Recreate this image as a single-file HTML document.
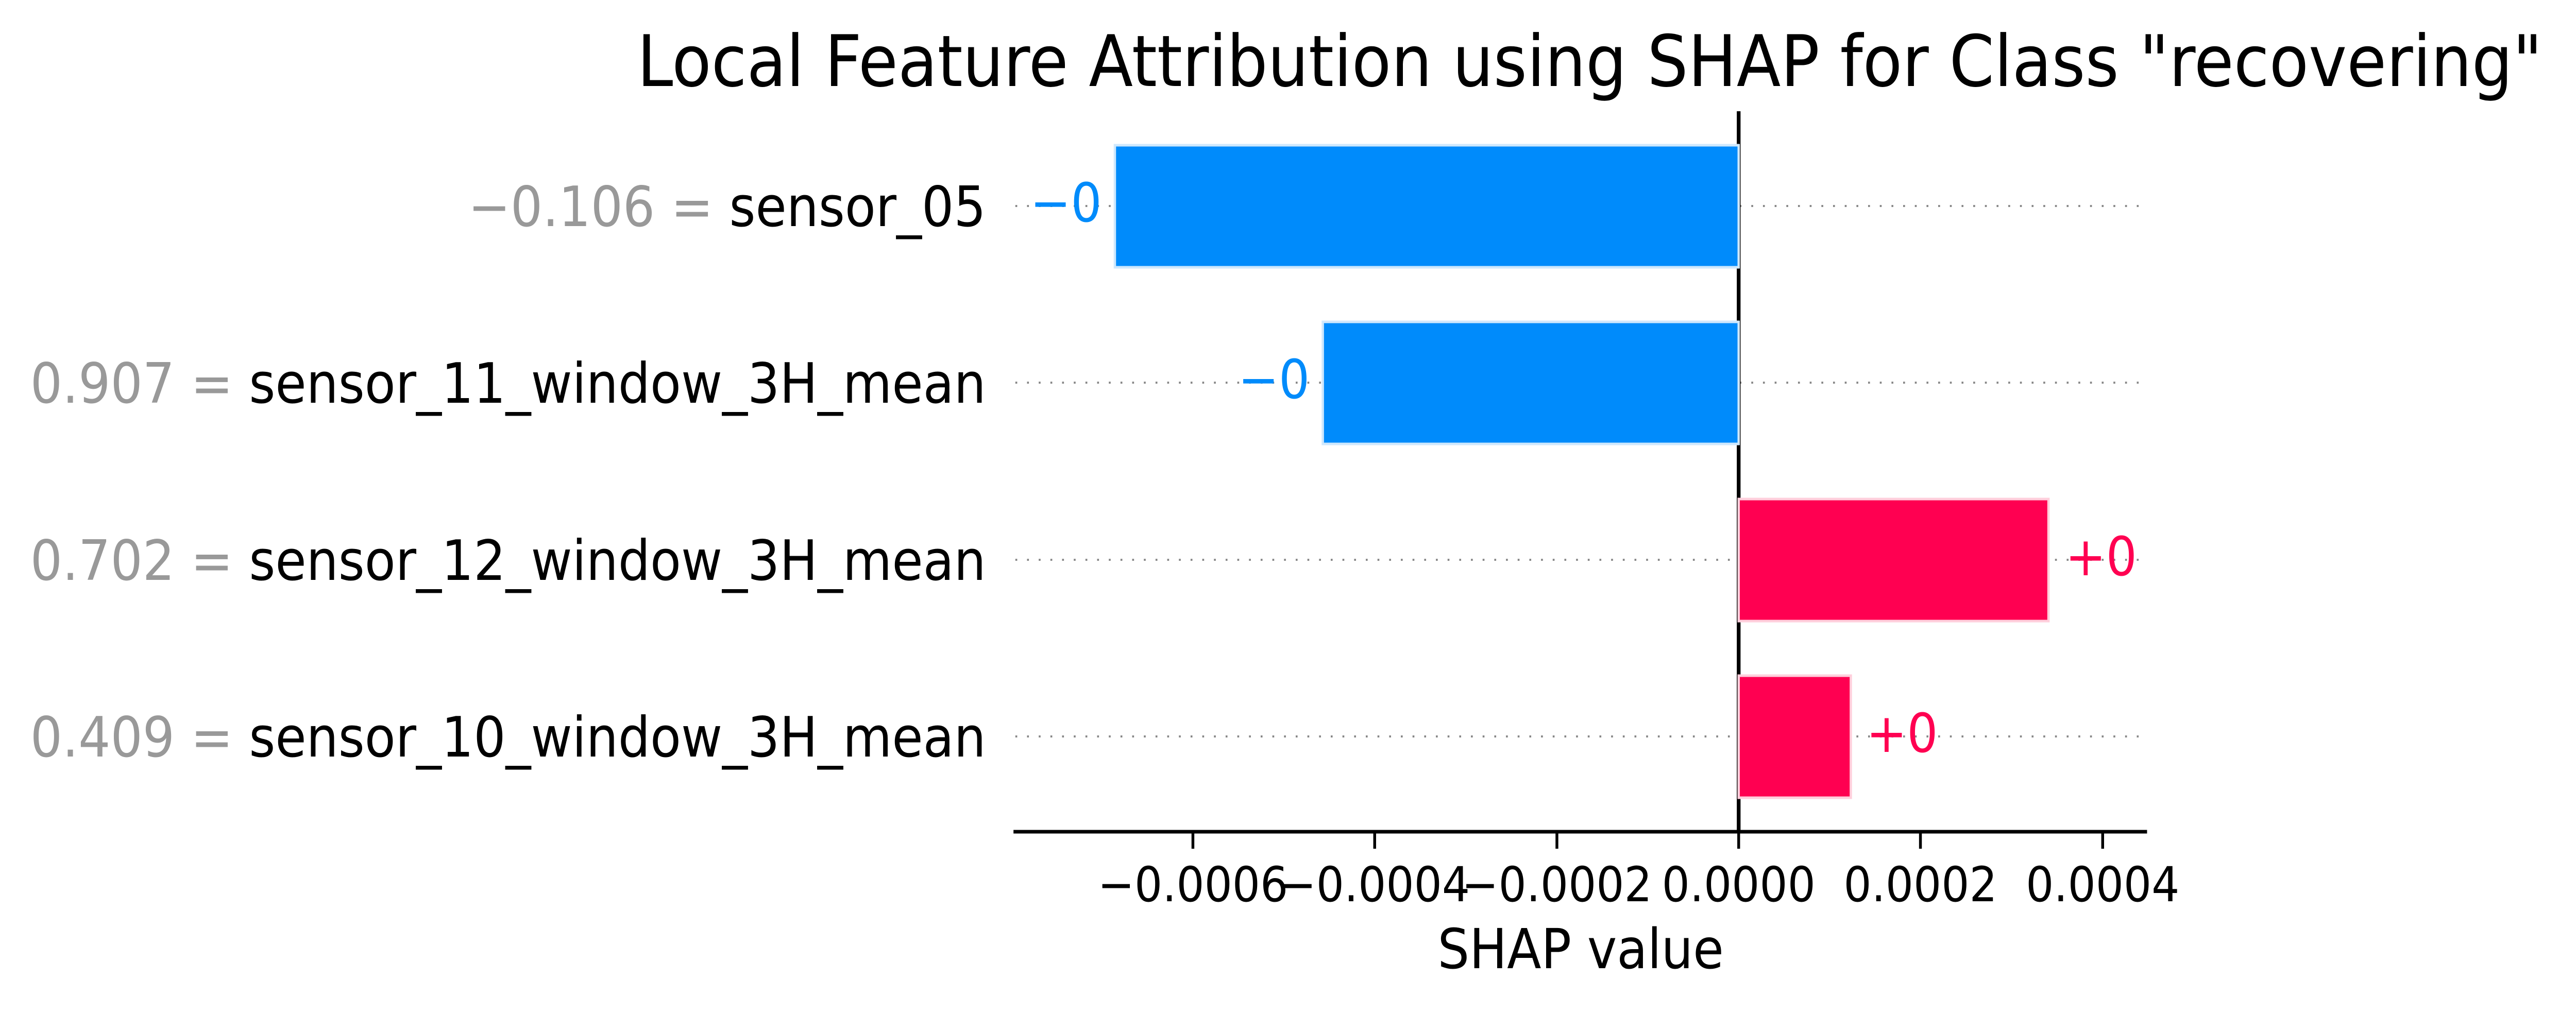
<!DOCTYPE html>
<html><head><meta charset="utf-8"><style>
html,body{margin:0;padding:0;background:#fff;width:100%;height:100%;overflow:hidden;}
svg{display:block;position:absolute;left:0;top:0;width:100vw;height:100vh;}
text{font-family:"DejaVu Sans","Liberation Sans",sans-serif;}
</style></head><body>
<svg viewBox="0 0 5513 1967" preserveAspectRatio="none" xmlns="http://www.w3.org/2000/svg" overflow="hidden">
<rect width="5513" height="1967" fill="#fff"/>
<text x="5441" y="167" font-size="138" text-anchor="end" fill="#000">Local Feature Attribution using SHAP for Class "recovering"</text>

<g stroke="#888" stroke-width="4" stroke-dasharray="4 21">
<line x1="2173" y1="400" x2="4578" y2="400"/>
<line x1="2173" y1="743" x2="4578" y2="743"/>
<line x1="2173" y1="1087" x2="4578" y2="1087"/>
<line x1="2173" y1="1430" x2="4578" y2="1430"/>
</g>

<line x1="3721" y1="216" x2="3721" y2="1615" stroke="#000" stroke-width="8"/>

<rect x="2386" y="282" width="1335" height="237" fill="#008bfb" stroke="#cfe8fd" stroke-width="5"/>
<rect x="2831" y="625" width="890" height="237" fill="#008bfb" stroke="#cfe8fd" stroke-width="5"/>
<rect x="3721" y="969" width="663" height="237" fill="#ff0051" stroke="#ffcfdc" stroke-width="5"/>
<rect x="3721" y="1312" width="240" height="237" fill="#ff0051" stroke="#ffcfdc" stroke-width="5"/>

<text x="2358" y="430" font-size="104" fill="#008bfb" text-anchor="end">−0</text>
<text x="2803" y="773" font-size="104" fill="#008bfb" text-anchor="end">−0</text>
<text x="4420" y="1117" font-size="104" fill="#ff0051">+0</text>
<text x="3994" y="1460" font-size="104" fill="#ff0051">+0</text>

<g font-size="108" text-anchor="end">
<text x="2110" y="439"><tspan fill="#999">−0.106 = </tspan><tspan fill="#000">sensor_05</tspan></text>
<text x="2110" y="782"><tspan fill="#999">0.907 = </tspan><tspan fill="#000">sensor_11_window_3H_mean</tspan></text>
<text x="2110" y="1126"><tspan fill="#999">0.702 = </tspan><tspan fill="#000">sensor_12_window_3H_mean</tspan></text>
<text x="2110" y="1469"><tspan fill="#999">0.409 = </tspan><tspan fill="#000">sensor_10_window_3H_mean</tspan></text>
</g>

<line x1="2169" y1="1615" x2="4595" y2="1615" stroke="#000" stroke-width="7"/>
<g stroke="#000" stroke-width="6">
<line x1="2553" y1="1615" x2="2553" y2="1648"/>
<line x1="2942" y1="1615" x2="2942" y2="1648"/>
<line x1="3332" y1="1615" x2="3332" y2="1648"/>
<line x1="3721" y1="1615" x2="3721" y2="1648"/>
<line x1="4110" y1="1615" x2="4110" y2="1648"/>
<line x1="4500" y1="1615" x2="4500" y2="1648"/>
</g>
<g font-size="94" text-anchor="middle" fill="#000">
<text x="2553" y="1750">−0.0006</text>
<text x="2942" y="1750">−0.0004</text>
<text x="3332" y="1750">−0.0002</text>
<text x="3721" y="1750">0.0000</text>
<text x="4110" y="1750">0.0002</text>
<text x="4500" y="1750">0.0004</text>
</g>
<text x="3383" y="1880" font-size="107" text-anchor="middle" fill="#000">SHAP value</text>
</svg>
</body></html>
